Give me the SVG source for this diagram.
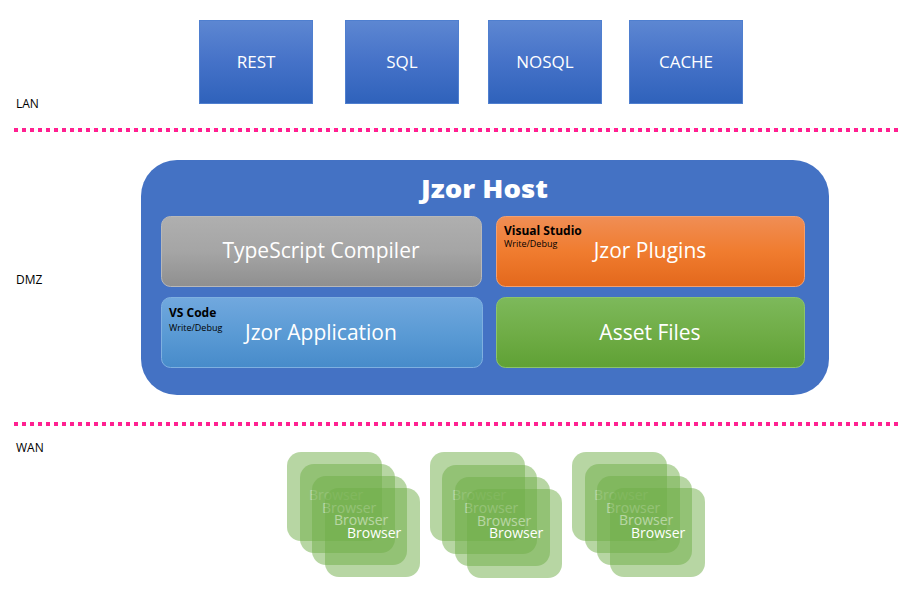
<svg xmlns="http://www.w3.org/2000/svg" width="915" height="594" viewBox="0 0 915 594">
<defs>
<linearGradient id="gTop" x1="0" y1="0" x2="0" y2="1"><stop offset="0" stop-color="#5d87d2"/><stop offset="0.5" stop-color="#4572c8"/><stop offset="1" stop-color="#2f62bb"/></linearGradient>
<linearGradient id="gGray" x1="0" y1="0" x2="0" y2="1"><stop offset="0" stop-color="#afafaf"/><stop offset="0.5" stop-color="#a5a5a5"/><stop offset="1" stop-color="#8f8f8f"/></linearGradient>
<linearGradient id="gOrange" x1="0" y1="0" x2="0" y2="1"><stop offset="0" stop-color="#f08e55"/><stop offset="0.5" stop-color="#f07c2f"/><stop offset="1" stop-color="#e3681c"/></linearGradient>
<linearGradient id="gBlue" x1="0" y1="0" x2="0" y2="1"><stop offset="0" stop-color="#71a8de"/><stop offset="0.5" stop-color="#5b9bd5"/><stop offset="1" stop-color="#478bca"/></linearGradient>
<linearGradient id="gGreen" x1="0" y1="0" x2="0" y2="1"><stop offset="0" stop-color="#7db95b"/><stop offset="0.5" stop-color="#70ad47"/><stop offset="1" stop-color="#5fa135"/></linearGradient>
</defs>
<style>
text{font-family:"Open Sans","Noto Sans","Liberation Sans",sans-serif}
.zone{font-size:12px;fill:#000}
.top rect{fill:url(#gTop);stroke:#4f7fcf;stroke-width:1}
.top text{font-size:17px;fill:#fff;text-anchor:middle}
.inner{stroke-width:1}
.big{font-size:21px;fill:#fff;text-anchor:middle}
.tool{font-size:12px;font-weight:bold;fill:#000}
.wd{font-size:9px;fill:#000}
.sep{stroke:#ff2090;stroke-width:4;stroke-dasharray:4 4;fill:none}
.br rect{fill:#70ad47;fill-opacity:0.5}
.br text{font-size:14px;fill:#fff}
</style>
<text class="zone" x="16" y="108">LAN</text>
<text class="zone" x="16" y="284">DMZ</text>
<text class="zone" x="16" y="452">WAN</text>
<g id="separators">
<line class="sep" x1="14" y1="130" x2="900" y2="130"/>
<line class="sep" x1="14" y1="424" x2="900" y2="424"/>
</g>
<g id="rest" class="top"><rect x="199.5" y="20.5" width="113" height="83"/><text x="256" y="68">REST</text></g>
<g id="sql" class="top"><rect x="345.5" y="20.5" width="113" height="83"/><text x="402" y="68">SQL</text></g>
<g id="nosql" class="top"><rect x="488.5" y="20.5" width="113" height="83"/><text x="545" y="68">NOSQL</text></g>
<g id="cache" class="top"><rect x="629.5" y="20.5" width="113" height="83"/><text x="686" y="68">CACHE</text></g>
<g id="host">
<rect x="141" y="160" width="688" height="235" rx="36" fill="#4472c4"/>
<text x="421" y="198" font-size="24" font-weight="800" fill="#fff" textLength="127" lengthAdjust="spacingAndGlyphs">Jzor Host</text>
</g>
<g id="typescript">
<rect class="inner" x="161.5" y="216.5" width="320" height="70" rx="9" fill="url(#gGray)" stroke="#b8b8b8"/>
<text class="big" x="321" y="258">TypeScript Compiler</text>
</g>
<g id="plugins">
<rect class="inner" x="496.5" y="216.5" width="308" height="70" rx="9" fill="url(#gOrange)" stroke="#f2a070"/>
<text class="tool" x="504" y="235">Visual Studio</text>
<text class="wd" x="504" y="247">Write/Debug</text>
<text class="big" x="650" y="258">Jzor Plugins</text>
</g>
<g id="application">
<rect class="inner" x="161.5" y="297.5" width="321" height="70" rx="9" fill="url(#gBlue)" stroke="#7fb0e0"/>
<text class="tool" x="169" y="317">VS Code</text>
<text class="wd" x="169" y="331">Write/Debug</text>
<text class="big" x="321" y="340">Jzor Application</text>
</g>
<g id="assets">
<rect class="inner" x="496.5" y="297.5" width="308" height="70" rx="9" fill="url(#gGreen)" stroke="#8cc46c"/>
<text class="big" x="650" y="340">Asset Files</text>
</g>
<g id="browsers1" class="br">
<rect x="287" y="452" width="95" height="89" rx="14"/><text x="309" y="500">Browser</text>
<rect x="300" y="464" width="95" height="89" rx="14"/><text x="322" y="513">Browser</text>
<rect x="312" y="476" width="95" height="89" rx="14"/><text x="334" y="525">Browser</text>
<rect x="325" y="488" width="95" height="89" rx="14"/><text x="347" y="538">Browser</text>
</g>
<g id="browsers2" class="br">
<rect x="430" y="452" width="95" height="89" rx="14"/><text x="452" y="500">Browser</text>
<rect x="442" y="465" width="95" height="89" rx="14"/><text x="464" y="513">Browser</text>
<rect x="455" y="477" width="95" height="89" rx="14"/><text x="477" y="526">Browser</text>
<rect x="467" y="489" width="95" height="89" rx="14"/><text x="489" y="538">Browser</text>
</g>
<g id="browsers3" class="br">
<rect x="572" y="452" width="95" height="89" rx="14"/><text x="594" y="500">Browser</text>
<rect x="585" y="464" width="95" height="89" rx="14"/><text x="606" y="513">Browser</text>
<rect x="597" y="476" width="95" height="89" rx="14"/><text x="619" y="525">Browser</text>
<rect x="610" y="488" width="95" height="89" rx="14"/><text x="631" y="538">Browser</text>
</g>
</svg>
